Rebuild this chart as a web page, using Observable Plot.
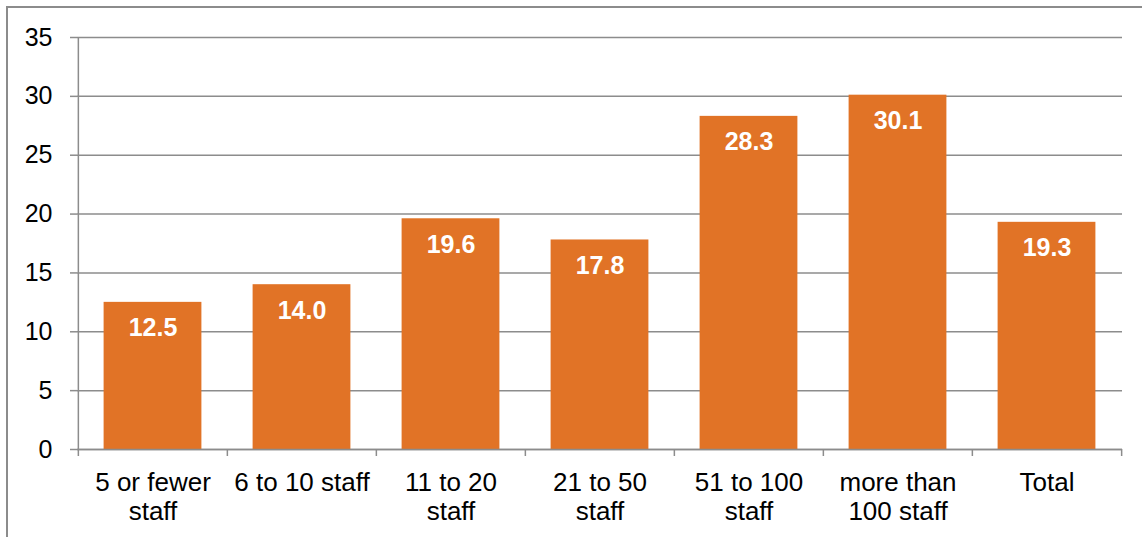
<!DOCTYPE html>
<html><head><meta charset="utf-8">
<script src="https://cdn.jsdelivr.net/npm/d3@7"></script>
<script src="https://cdn.jsdelivr.net/npm/@observablehq/plot@0.6"></script>
<style>
body{margin:0;background:#fff;}
#wrap{position:relative;width:1142px;height:537px;overflow:hidden;background:#fff;}
#frame{position:absolute;left:6px;top:6px;width:1200px;height:600px;border-left:2px solid #8c8c8c;border-top:2px solid #8c8c8c;}
#chart{position:absolute;left:0;top:0;}
</style>
</head><body>
<div id="wrap"><div id="frame"></div><div id="chart"></div></div>
<script>
const categories = ["5 or fewer\nstaff", "6 to 10 staff", "11 to 20\nstaff", "21 to 50\nstaff", "51 to 100\nstaff", "more than\n100 staff", "Total"];
const values = [12.5, 14.0, 19.6, 17.8, 28.3, 30.1, 19.3];
const yTicks = [0, 5, 10, 15, 20, 25, 30, 35];

const data = categories.map((c, i) => ({cat: c, value: values[i]}));

const W = 1142, H = 537, mL = 77, mR = 20, mT = 37, mB = 88;
const bw = (W - mL - mR) / categories.length;
const plotH = H - mT - mB;
const grid = "#8c8c8c";
const orange = "#E17326";

const chart = Plot.plot({
  width: W, height: H,
  marginLeft: mL, marginRight: mR, marginTop: mT, marginBottom: mB,
  style: {fontFamily: "'Liberation Sans', Arial, sans-serif", fontSize: "25px", background: "transparent", color: "#000"},
  x: {type: "band", domain: categories, padding: 0, axis: null},
  y: {domain: [0, 35], axis: null},
  marks: [
    Plot.ruleY(yTicks, {stroke: grid, strokeWidth: 1.5}),
    Plot.barY(data, {x: "cat", y: "value", fill: orange, insetLeft: 25.6, insetRight: 25.6}),
    Plot.ruleY([0], {stroke: grid, strokeWidth: 1.5}),
    Plot.ruleX([categories[0]], {x: d => d, dx: -bw / 2, stroke: grid, strokeWidth: 1.5, insetBottom: -7}),
    Plot.ruleX(categories.slice(1), {x: d => d, dx: -bw / 2, stroke: grid, strokeWidth: 1.5, insetTop: plotH, insetBottom: -7}),
    Plot.ruleX([categories[categories.length - 1]], {x: d => d, dx: bw / 2, stroke: grid, strokeWidth: 1.5, insetTop: plotH, insetBottom: -7}),
    Plot.axisY({ticks: yTicks, tickSize: 7, tickPadding: 18, stroke: grid, strokeWidth: 1.5, fill: "#000", fontSize: 25, label: null}),
    Plot.axisX({tickSize: 0, tickPadding: 21, fill: "#000", fontSize: 26, lineHeight: 1.12, label: null}),
    Plot.text(data, {x: "cat", y: "value", dy: 26, text: d => d.value.toFixed(1), fill: "#fff", fontWeight: "bold", fontSize: 25})
  ]
});
document.getElementById("chart").appendChild(chart);
</script>
</body></html>
